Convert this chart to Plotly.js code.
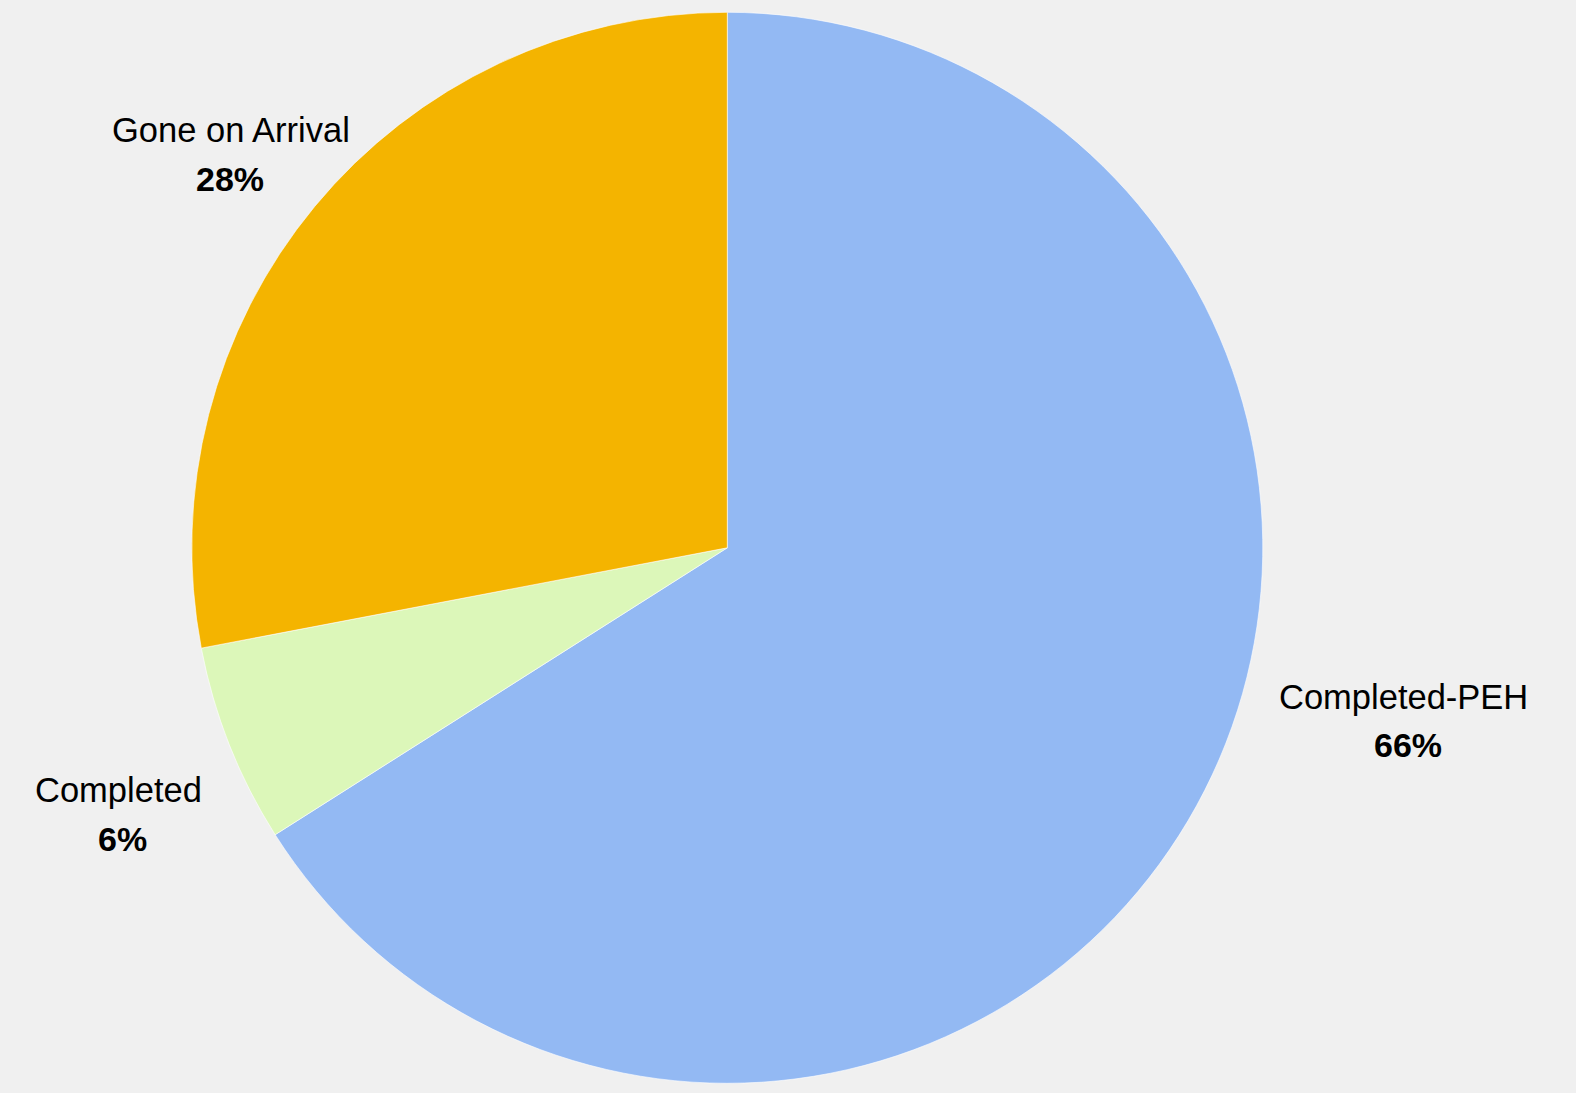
<!DOCTYPE html>
<html>
<head>
<meta charset="utf-8">
<script src="https://cdn.plot.ly/plotly-3.0.1.min.js"></script>
<style>
  html, body { margin: 0; padding: 0; background: #f0f0f0; }
  #chart { width: 1576px; height: 1093px; }
</style>
</head>
<body>
<div id="chart"></div>
<script>
// ---- data ----
const categories = ["Completed-PEH", "Completed", "Gone on Arrival"];
const values = [66, 6, 28];
const colors = ["#93b9f3", "#dcf7b9", "#f4b400"];

// ---- label placement (pixels in the 1576x1093 page) ----
const W = 1576, H = 1093;
const namePos = [[1403, 697], [118, 790], [231, 130]];
const pctPos  = [[1408, 745], [122, 839], [230, 179]];

const total = values.reduce((a, b) => a + b, 0);
const pctText = values.map(v => Math.round(v / total * 100) + "%");

const FONT = "Arial, 'Liberation Sans', sans-serif";
const annotations = [];
categories.forEach((c, i) => {
  annotations.push({
    text: c, xref: "paper", yref: "paper",
    x: namePos[i][0] / W, y: 1 - namePos[i][1] / H,
    xanchor: "center", yanchor: "middle", showarrow: false,
    font: { family: FONT, size: 34.5, color: "#000000" }
  });
  annotations.push({
    text: "<b>" + pctText[i] + "</b>", xref: "paper", yref: "paper",
    x: pctPos[i][0] / W, y: 1 - pctPos[i][1] / H,
    xanchor: "center", yanchor: "middle", showarrow: false,
    font: { family: FONT, size: 34, color: "#000000" }
  });
});

const trace = {
  type: "pie",
  labels: categories,
  values: values,
  sort: false,
  direction: "clockwise",
  rotation: 0,
  textinfo: "none",
  hoverinfo: "label+percent",
  marker: { colors: colors, line: { color: "#ffffff", width: 0.6 } },
  domain: { x: [0.1, 0.82297], y: [0.00888, 0.98875] },
  showlegend: false
};

const layout = {
  width: W, height: H,
  margin: { l: 0, r: 0, t: 0, b: 0, pad: 0 },
  paper_bgcolor: "#f0f0f0",
  plot_bgcolor: "#f0f0f0",
  showlegend: false,
  annotations: annotations
};

Plotly.newPlot("chart", [trace], layout, { displayModeBar: false, staticPlot: true });
</script>
</body>
</html>
